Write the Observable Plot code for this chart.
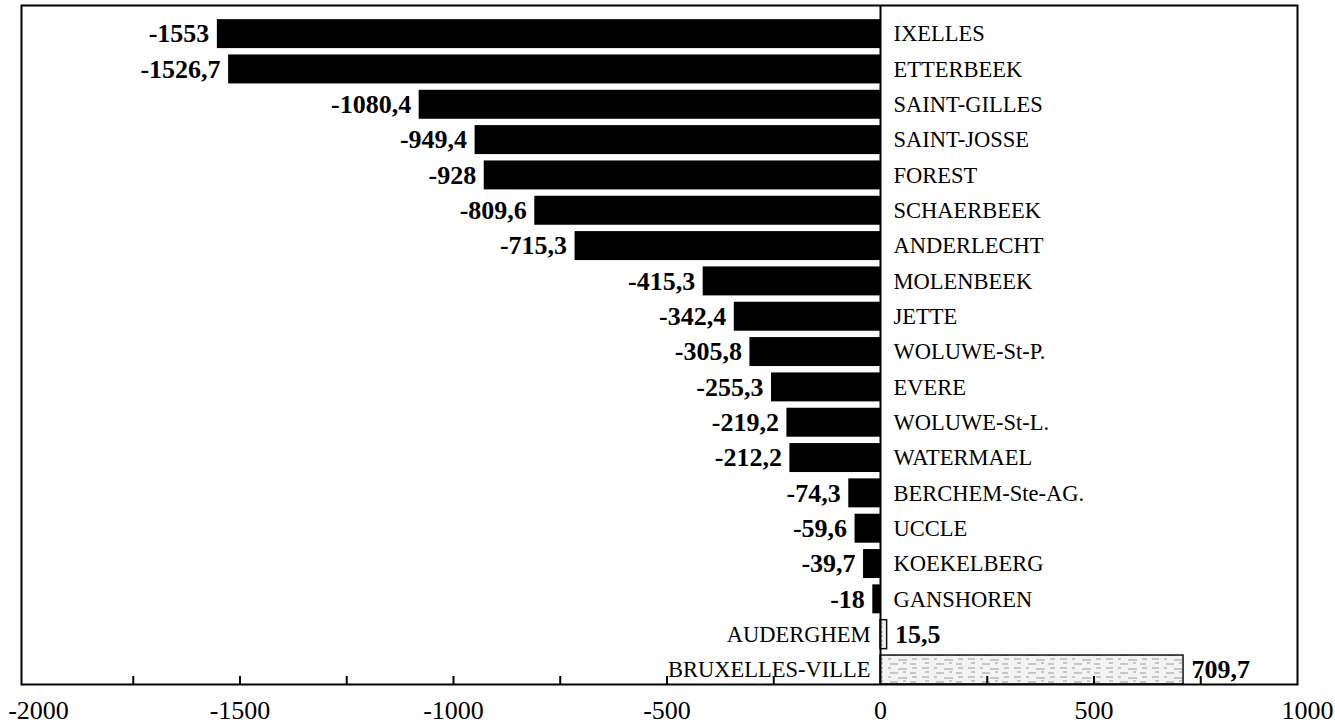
<!DOCTYPE html>
<html><head><meta charset="utf-8">
<script src="https://cdn.jsdelivr.net/npm/d3@7"></script>
<script src="https://cdn.jsdelivr.net/npm/@observablehq/plot@0.6"></script>
<style>body{margin:0;background:#fff}</style>
</head><body><div id="chart"></div>
<script>
const communes = ["IXELLES","ETTERBEEK","SAINT-GILLES","SAINT-JOSSE","FOREST","SCHAERBEEK","ANDERLECHT","MOLENBEEK","JETTE","WOLUWE-St-P.","EVERE","WOLUWE-St-L.","WATERMAEL","BERCHEM-Ste-AG.","UCCLE","KOEKELBERG","GANSHOREN","AUDERGHEM","BRUXELLES-VILLE"];
const values = [-1553,-1526.7,-1080.4,-949.4,-928,-809.6,-715.3,-415.3,-342.4,-305.8,-255.3,-219.2,-212.2,-74.3,-59.6,-39.7,-18,15.5,709.7];
const xTickLabels = [-1500,-1000,-500,0,500,1000];
const xFirstLabel = [-2000];
const xMinorTicks = [-1750,-1500,-1250,-1000,-750,-500,-250,250,500,750];

const data = communes.map((name, i) => ({name, value: values[i]}));
const neg = data.filter(d => d.value < 0);
const pos = data.filter(d => d.value >= 0);
const fmt = v => String(v).replace(".", ",");

const H = 728, MT = 5, MB = 44;
const chart = Plot.plot({
  width: 1335,
  height: H,
  marginLeft: 26,
  marginRight: 28,
  marginTop: MT,
  marginBottom: MB,
  style: {fontFamily: "'Liberation Serif', 'Times New Roman', serif", background: "white", color: "black"},
  x: {domain: [-2000, 1000], axis: null},
  y: {domain: communes, axis: null, paddingInner: 0.18, paddingOuter: 0.2, align: 1, round: false},
  marks: [
    Plot.barX(neg, {x: "value", y: "name", fill: "black"}),
    Plot.barX(pos, {x: "value", y: "name", fill: "url(#speck)", stroke: "#111", strokeWidth: 1.5}),
    Plot.ruleX([0], {strokeWidth: 2}),
    Plot.text(neg, {x: 0, y: "name", text: "name", textAnchor: "start", dx: 13, fontSize: 22.5}),
    Plot.text(pos, {x: 0, y: "name", text: "name", textAnchor: "end", dx: -10, fontSize: 22.5}),
    Plot.text(neg, {x: "value", y: "name", text: d => fmt(d.value), textAnchor: "end", dx: -8, fontSize: 26, fontWeight: "bold"}),
    Plot.text(pos, {x: "value", y: "name", text: d => fmt(d.value), textAnchor: "start", dx: 8, fontSize: 26, fontWeight: "bold"}),
    Plot.tickX(xMinorTicks, {x: d => d, insetTop: H - MT - MB - 8, strokeWidth: 2}),
    Plot.axisX({ticks: xTickLabels, tickSize: 0, tickPadding: 16, tickFormat: d => String(d), fontSize: 26, label: null}),
    Plot.axisX({ticks: xFirstLabel, tickSize: 0, tickPadding: 16, tickFormat: d => String(d), fontSize: 26, label: null, dx: 12}),
    Plot.frame({strokeWidth: 2, insetLeft: -5, insetRight: 10})
  ]
});
const defs = d3.create("svg:defs");
const pat = defs.append("pattern").attr("id", "speck").attr("patternUnits", "userSpaceOnUse").attr("width", 46).attr("height", 9);
pat.append("rect").attr("width", 46).attr("height", 9).attr("fill", "#f3f3f3");
pat.append("path").attr("d", "M2 2h7M14 2h3M24 3h9M38 2h5M5 6h4M16 7h8M29 6h3M36 7h6").attr("stroke", "#9a9a9a").attr("stroke-width", 1);
chart.insertBefore(defs.node(), chart.firstChild);
document.getElementById("chart").appendChild(chart);
</script>
</body></html>
